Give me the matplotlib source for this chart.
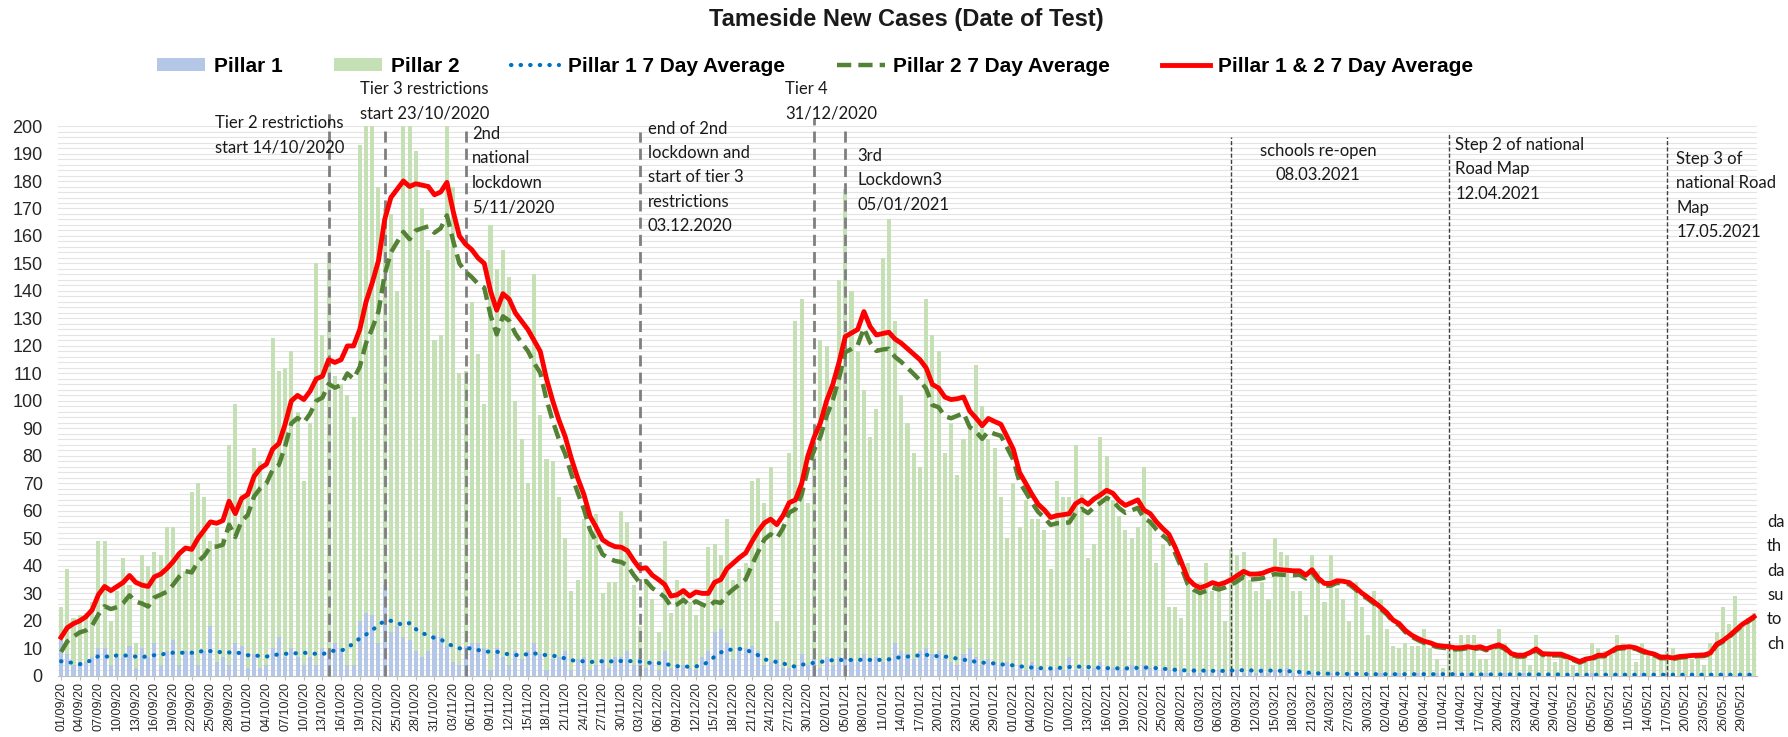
import numpy as np
import pandas as pd
import matplotlib
matplotlib.use("Agg")
import matplotlib.pyplot as plt
from matplotlib import font_manager
from matplotlib.patches import Patch
from matplotlib.lines import Line2D


def pick(*names):
    for n in names:
        try:
            font_manager.findfont(n, fallback_to_default=False)
            return n
        except ValueError:
            pass
    return "DejaVu Sans"


narrow = pick("Liberation Sans Narrow", "Liberation Sans")
arial = pick("Liberation Sans", "DejaVu Sans")
calibri = pick("Lato", "Open Sans", "DejaVu Sans")

dates = pd.date_range("2020-09-01", "2021-05-31")

# daily cases, pillar 2 (green bars)
pillar2 = [
    25, 39, 21, 22, 23, 27, 49, 49, 20, 31,
    43, 33, 12, 44, 40, 45, 44, 54, 54, 44,
    38, 67, 70, 65, 49, 54, 50, 84, 99, 66,
    67, 83, 78, 71, 123, 111, 112, 118, 96, 71,
    92, 150, 124, 154, 109, 106, 102, 94, 193, 215,
    210, 178, 170, 168, 140, 212, 208, 191, 170, 155,
    122, 124, 205, 178, 110, 111, 136, 117, 99, 164,
    148, 155, 145, 100, 86, 70, 146, 95, 79, 78,
    65, 50, 31, 35, 57, 52, 59, 30, 34, 34,
    60, 56, 33, 18, 35, 28, 16, 49, 23, 35,
    30, 27, 22, 26, 47, 48, 44, 57, 35, 39,
    41, 71, 72, 63, 76, 20, 55, 81, 129, 137,
    63, 80, 122, 120, 105, 144, 177, 140, 118, 104,
    87, 97, 152, 166, 129, 102, 92, 81, 76, 137,
    124, 118, 81, 92, 73, 86, 91, 113, 98, 86,
    83, 65, 50, 70, 54, 64, 57, 57, 53, 39,
    71, 65, 65, 84, 66, 43, 48, 87, 80, 64,
    58, 53, 50, 54, 76, 56, 41, 48, 25, 25,
    21, 41, 31, 34, 41, 31, 34, 20, 46, 44,
    45, 35, 31, 34, 28, 50, 45, 44, 31, 31,
    22, 44, 38, 27, 44, 32, 28, 20, 34, 25,
    15, 31, 28, 17, 11, 10, 12, 11, 11, 17,
    10, 6, 3, 12, 11, 15, 15, 15, 6, 6,
    11, 17, 12, 8, 8, 7, 4, 15, 7, 9,
    5, 8, 8, 4, 5, 7, 12, 10, 9, 8,
    15, 12, 11, 5, 12, 8, 7, 8, 9, 10,
    7, 8, 6, 6, 4, 12, 16, 25, 19, 29,
    19, 21, 23,
]

# daily cases, pillar 1 (blue bars)
pillar1 = [
    13, 8, 4, 5, 5, 7, 10, 10, 4, 7,
    7, 11, 3, 10, 7, 12, 4, 9, 13, 4,
    9, 9, 4, 9, 18, 5, 7, 4, 12, 11,
    3, 8, 3, 4, 10, 14, 7, 10, 7, 4,
    7, 4, 10, 9, 12, 10, 4, 4, 20, 23,
    22, 12, 33, 16, 18, 14, 13, 9, 7, 9,
    15, 14, 11, 5, 4, 11, 12, 12, 10, 2,
    10, 7, 4, 9, 6, 9, 12, 8, 2, 6,
    7, 9, 2, 6, 7, 2, 4, 6, 3, 7,
    7, 9, 4, 7, 3, 5, 2, 9, 3, 3,
    4, 3, 2, 7, 9, 16, 17, 12, 6, 10,
    10, 11, 9, 4, 5, 6, 3, 3, 4, 8,
    4, 6, 3, 7, 4, 7, 7, 6, 5, 8,
    6, 7, 5, 6, 12, 9, 8, 6, 9, 10,
    8, 9, 7, 5, 4, 8, 10, 7, 4, 6,
    5, 4, 5, 3, 4, 2, 5, 3, 2, 3,
    3, 2, 7, 2, 3, 2, 3, 5, 3, 3,
    2, 3, 4, 2, 4, 3, 2, 3, 2, 3,
    2, 1, 3, 1, 2, 1, 2, 1, 3, 2,
    1, 2, 1, 3, 1, 2, 1, 3, 1, 1,
    1, 1, 1, 0, 1, 1, 0, 1, 1, 0,
    1, 0, 1, 0, 1, 1, 0, 0, 1, 0,
    0, 1, 0, 0, 1, 0, 1, 0, 0, 1,
    0, 0, 1, 0, 0, 1, 0, 0, 0, 1,
    0, 0, 1, 0, 0, 0, 1, 0, 0, 0,
    1, 0, 0, 0, 1, 0, 0, 0, 1, 0,
    0, 0, 1, 0, 0, 0, 0, 1, 0, 0,
    0, 1, 0,
]

pillar1_avg = [
    5.3, 5, 4.7, 4.2, 5, 5.7, 7.2, 7.2, 6.7, 7.5,
    7.5, 7.2, 7, 6.7, 7.3, 7.5, 7.5, 8.4, 8.4, 8.4,
    8.4, 8.4, 8.4, 9.4, 9, 8.5, 8.8, 8.5, 8.5, 8.2,
    7.5, 7.3, 7.3, 7, 7.5, 7.8, 8, 8.2, 8.2, 8.4,
    8.2, 8, 7.8, 8.8, 9.2, 9.2, 10, 12, 13.6, 15,
    16.6, 18.5, 20, 20, 19.2, 18.5, 19.2, 17, 15.7, 14.5,
    13.8, 13.2, 12, 10.7, 10, 10, 10, 9.4, 8.8, 8.8,
    8.8, 8.2, 7.8, 7.5, 7.8, 7.8, 8.2, 7.8, 7.5, 7.3,
    7, 6.3, 5.7, 5.3, 5.3, 5, 5.2, 5.3, 5.3, 5.2,
    5.4, 5.4, 5.3, 5.2, 4.8, 4.7, 4.6, 4.6, 3.7, 3.5,
    3.4, 3.3, 3.4, 4, 5, 7, 8.5, 9.5, 9.5, 9.8,
    9.6, 8.5, 7.5, 6, 5.5, 5, 4.6, 3.6, 3.4, 4,
    4.5, 4.7, 5, 5.5, 5.7, 5.8, 5.7, 5.8, 5.7, 6,
    5.8, 5.8, 5.8, 6, 6.5, 6.8, 7, 7.2, 7.5, 7.6,
    7.5, 7, 7, 6.8, 6.2, 5.8, 5.8, 5, 4.8, 4.7,
    4.5, 4.2, 4, 3.8, 3.5, 3.2, 3, 2.8, 2.8, 2.7,
    2.8, 3, 3.2, 3.4, 3.3, 3.2, 3, 2.9, 2.8, 2.8,
    2.7, 2.7, 2.8, 2.9, 3, 3, 2.8, 2.6, 2.4, 2.2,
    2, 2, 1.9, 1.9, 1.9, 1.8, 1.8, 1.8, 1.9, 2.1,
    2, 2, 1.8, 1.8, 1.9, 1.9, 1.8, 1.7, 1.6, 1.4,
    1.2, 1, 0.9, 0.8, 0.8, 0.8, 0.7, 0.7, 0.7, 0.7,
    0.6, 0.6, 0.6, 0.6, 0.6, 0.6, 0.6, 0.6, 0.6, 0.6,
    0.6, 0.6, 0.6, 0.6, 0.6, 0.5, 0.5, 0.5, 0.5, 0.5,
    0.5, 0.5, 0.5, 0.5, 0.5, 0.5, 0.5, 0.5, 0.5, 0.5,
    0.5, 0.5, 0.4, 0.4, 0.4, 0.4, 0.4, 0.4, 0.4, 0.4,
    0.4, 0.4, 0.4, 0.4, 0.4, 0.4, 0.4, 0.4, 0.4, 0.4,
    0.4, 0.4, 0.4, 0.4, 0.4, 0.4, 0.4, 0.4, 0.4, 0.4,
    0.4, 0.4, 0.4,
]

pillar2_avg = [
    8.7, 12.5, 14.3, 15.8, 16.5, 18.3, 22.3, 25.3, 24.3, 25,
    26.5, 29.3, 27, 26.3, 25.2, 28.5, 29.5, 30.6, 33.1, 36.1,
    38.1, 37.6, 41.6, 43.6, 47, 47, 47.7, 55, 50.5, 56.3,
    58.5, 65.2, 68.2, 70, 75, 76.7, 83.5, 91.8, 93.8, 92.1,
    95.3, 100, 101.2, 106.2, 104.8, 105.8, 110, 108, 112.4, 121,
    126.4, 132.5, 146, 154, 157.8, 161.5, 158.8, 162, 162.8, 163.5,
    161.2, 162.8, 167.5, 158.3, 150, 147, 145, 142.6, 141.2, 131.2,
    124.2, 130.8, 129.2, 124.5, 121.2, 118.2, 113.8, 110.2, 100.5, 92.7,
    86, 80.7, 73.3, 66.7, 60.7, 53, 48.8, 44.2, 42.7, 41.8,
    41.4, 40.1, 36.7, 33.8, 34.5, 31.9, 30.4, 28.6, 25.3, 26,
    27.6, 25.7, 27.1, 26, 25, 27, 26.5, 29.5, 31.5, 33.2,
    35.1, 40.3, 45.1, 49.6, 51.5, 50, 53.7, 59.4, 60.6, 66,
    75.5, 82.1, 87, 94.5, 100.3, 108.2, 117.7, 118.9, 120.3, 126.5,
    121.2, 118.2, 118.7, 119, 116, 114.2, 112, 109.8, 107.5, 104.4,
    98.5, 97.7, 94.4, 93.7, 94.6, 95.6, 90.5, 88.8, 86.2, 88.9,
    88, 87.3, 83, 78.6, 70.5, 66.8, 63, 59.6, 57.5, 54.9,
    55.5, 55.6, 55.8, 59.2, 60.7, 59.2, 61.4, 62.9, 64.7, 63.6,
    61, 59.3, 60.2, 61.1, 57.3, 56, 53.2, 51, 49.1, 44.6,
    39.4, 33.5, 31.3, 30.1, 30.9, 32.1, 31.4, 32.1, 33.1, 34.4,
    36, 35, 35.2, 35.5, 36.3, 37, 36.8, 36.7, 36.6, 36.8,
    35.4, 37.6, 34.6, 32.8, 32.8, 33.8, 33.7, 33.2, 31.4, 29.4,
    27.9, 26.2, 24.4, 22.4, 19.7, 18.4, 15.9, 14.2, 13, 12,
    11.4, 10.5, 10.2, 10, 9.6, 9.7, 10.1, 9.7, 10.1, 9.3,
    10.1, 10.8, 9.7, 7.6, 7, 7, 7.9, 9.3, 7.6, 7.4,
    7.4, 7.4, 6.6, 5.7, 4.8, 5.7, 6.1, 7.1, 7.1, 8.4,
    9.8, 10, 10.2, 9.8, 8.8, 8, 7.5, 6.4, 6.4, 6.1,
    6.6, 6.8, 7, 7.1, 7.2, 7.9, 11.1, 12.4, 14.1, 16.1,
    18.1, 19.6, 21.1,
]

total_avg = [
    14, 17.5, 19, 20, 21.5, 24, 29.5, 32.5, 31, 32.5,
    34, 36.5, 34, 33, 32.5, 36, 37, 39, 41.5, 44.5,
    46.5, 46, 50, 53, 56, 55.5, 56.5, 63.5, 59, 64.5,
    66, 72.5, 75.5, 77, 82.5, 84.5, 91.5, 100, 102, 100.5,
    103.5, 108, 109, 115, 114, 115, 120, 120, 126, 136,
    143, 151, 166, 174, 177, 180, 178, 179, 178.5, 178,
    175, 176, 179.5, 169, 160, 157, 155, 152, 150, 140,
    133, 139, 137, 132, 129, 126, 122, 118, 108, 100,
    93, 87, 79, 72, 66, 58, 54, 49.5, 48, 47,
    46.8, 45.5, 42, 39, 39.3, 36.6, 35, 33.2, 29, 29.5,
    31, 29, 30.5, 30, 30, 34, 35, 39, 41, 43,
    44.7, 48.8, 52.6, 55.6, 57, 55, 58.3, 63, 64, 70,
    80, 86.8, 92, 100, 106, 114, 123.4, 124.7, 126, 132.5,
    127, 124, 124.5, 125, 122.5, 121, 119, 117, 115, 112,
    106, 104.7, 101.4, 100.5, 100.8, 101.4, 96.3, 93.8, 91, 93.6,
    92.5, 91.5, 87, 82.4, 74, 70, 66, 62.4, 60.3, 57.6,
    58.3, 58.6, 59, 62.6, 64, 62.4, 64.4, 65.8, 67.5, 66.4,
    63.7, 62, 63, 64, 60.3, 59, 56, 53.6, 51.5, 46.8,
    41.4, 35.5, 33.2, 32, 32.8, 33.9, 33.2, 33.9, 35, 36.5,
    38, 37, 37, 37.3, 38.2, 38.9, 38.6, 38.4, 38.2, 38.2,
    36.6, 38.6, 35.5, 33.6, 33.6, 34.6, 34.4, 33.9, 32.1, 30.1,
    28.5, 26.8, 25, 23, 20.3, 19, 16.5, 14.8, 13.6, 12.6,
    12, 11.1, 10.8, 10.6, 10.2, 10.2, 10.6, 10.2, 10.6, 9.8,
    10.6, 11.3, 10.2, 8.1, 7.5, 7.5, 8.4, 9.8, 8.1, 7.9,
    7.9, 7.9, 7, 6.1, 5.2, 6.1, 6.5, 7.5, 7.5, 8.8,
    10.2, 10.4, 10.6, 10.2, 9.2, 8.4, 7.9, 6.8, 6.8, 6.5,
    7, 7.2, 7.4, 7.5, 7.6, 8.3, 11.5, 12.8, 14.5, 16.5,
    18.5, 20, 21.5,
]

event_dates = ["2020-10-14", "2020-10-23", "2020-11-05", "2020-12-03", "2020-12-31",
               "2021-01-05", "2021-03-08", "2021-04-12", "2021-05-17"]
event_labels = [
    "Tier 2 restrictions\nstart 14/10/2020",
    "Tier 3 restrictions\nstart 23/10/2020",
    "2nd\nnational\nlockdown\n5/11/2020",
    "end of 2nd\nlockdown and\nstart of tier 3\nrestrictions\n03.12.2020",
    "Tier 4\n31/12/2020",
    "3rd\nLockdown3\n05/01/2021",
    "schools re-open\n08.03.2021",
    "Step 2 of national\nRoad Map\n12.04.2021",
    "Step 3 of\nnational Road\nMap\n17.05.2021",
]
# where each label sits (day offset from the line, top in data units)
label_dx = [-18.3, -4.0, 1.0, 1.3, -4.7, 2.0, 14.0, 1.0, 1.5]
label_top = [204, 216.5, 200, 202, 216.5, 192, 194, 196, 191]
line_top = [206, 199, 200, 198, 203, 200, 196, 197, 196]

x = np.arange(len(dates))

fig = plt.figure(figsize=(17.88, 7.37), dpi=100)
ax = fig.add_axes([0.0324, 0.083, 0.9503, 0.746])

ax.set_axisbelow(True)
ax.set_yticks(np.arange(0, 201, 2), minor=True)
ax.grid(axis="y", which="both", color="#e4e4e4", linewidth=0.8)

ax.bar(x, pillar2, width=0.65, color="#c5e0b4", zorder=2)
ax.bar(x, pillar1, width=0.65, color="#b4c7e7", zorder=3)

for i, d in enumerate(event_dates):
    xi = dates.get_loc(pd.Timestamp(d))
    if i < 6:
        ax.plot([xi, xi], [0, line_top[i]], color="#7f7f7f", lw=2.0,
                linestyle=(0, (4, 2.2)), zorder=4, clip_on=False)
    else:
        ax.plot([xi, xi], [0, line_top[i]], color="#404040", lw=1.0,
                linestyle=(0, (3, 1.5)), zorder=4, clip_on=False)
    ha = "center" if i == 6 else "left"
    ax.text(xi + label_dx[i], label_top[i], event_labels[i], ha=ha, va="top",
            fontsize=12, family=calibri, color="#1a1a1a", linespacing=1.65,
            zorder=6, clip_on=False)

ax.text(274.1, 59, "da\nth\nda\nsu\nto\nch", ha="left", va="top", fontsize=12,
        family=calibri, color="#1a1a1a", linespacing=1.65, clip_on=False)

ax.plot(x, pillar1_avg, color="#0070c0", lw=3.0, linestyle=(0, (0.1, 2.2)),
        dash_capstyle="round", zorder=5)
ax.plot(x, pillar2_avg, color="#548235", lw=3.2, linestyle=(0, (3.2, 1.6)), zorder=5)
ax.plot(x, total_avg, color="#ff0000", lw=3.5, zorder=6)

ax.set_xlim(-0.5, len(dates) - 0.5)
ax.set_ylim(0, 200)
ax.set_yticks(np.arange(0, 201, 10))
ax.tick_params(axis="y", which="both", length=0, labelsize=13, labelcolor="#262626", pad=11)
for lab in ax.get_yticklabels():
    lab.set_family(narrow)

ticks = x[::3]
ax.set_xticks(ticks)
ax.set_xticklabels([dates[i].strftime("%d/%m/%y") for i in ticks], rotation=90,
                   fontsize=9, family=arial, color="#262626")
ax.tick_params(axis="x", length=3, color="#bfbfbf", pad=1.5)

for s in ["top", "right", "left"]:
    ax.spines[s].set_visible(False)
ax.spines["bottom"].set_color("#bfbfbf")

fig.text(0.507, 0.974, "Tameside New Cases (Date of Test)", ha="center", va="center",
         fontsize=17, fontweight="bold", family=narrow, color="#1a1a1a")

handles = [
    Patch(facecolor="#b4c7e7", edgecolor="none"),
    Patch(facecolor="#c5e0b4", edgecolor="none"),
    Line2D([], [], color="#0070c0", lw=3.0, linestyle=(0, (0.1, 2.2)), dash_capstyle="round"),
    Line2D([], [], color="#548235", lw=3.2, linestyle=(0, (3.2, 1.6))),
    Line2D([], [], color="#ff0000", lw=3.5),
]
names = ["Pillar 1", "Pillar 2", "Pillar 1 7 Day Average", "Pillar 2 7 Day Average",
         "Pillar 1 & 2 7 Day Average"]
fig.legend(handles, names, loc="center", bbox_to_anchor=(0.456, 0.91), ncol=5,
           frameon=False, handlelength=2.3, handleheight=0.6, columnspacing=2.5,
           handletextpad=0.4, prop={"family": narrow, "weight": "bold", "size": 15})

fig.savefig("out.png", dpi=100)
